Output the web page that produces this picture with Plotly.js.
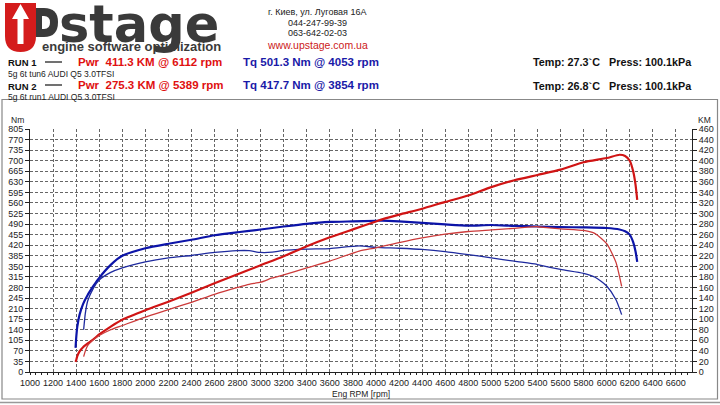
<!DOCTYPE html>
<html>
<head>
<meta charset="utf-8">
<script src="https://cdn.plot.ly/plotly-3.0.1.min.js"></script>
<style>html,body{margin:0;padding:0;background:#fff;}#chart{width:720px;height:405px;}</style>
</head>
<body>
<div id="chart"></div>
<script>
// ---- Data ----
const rpmRun1 = [1395,1400,1410,1430,1460,1500,1550,1600,1700,1800,2000,2200,2400,2600,2800,3000,3200,3400,3600,3800,4000,4053,4200,4400,4600,4800,5000,5200,5400,5600,5800,6000,6112,6160,6200,6230,6250,6265];
const torqueRun1 = [80,110,150,190,225,255,285,312,355,385,410,425,438,453,463,472,482,491,497,499,501,501.3,499,494,489,485,487,484,482,480,479,477,472,466,455,430,400,365];
const powerRun1 = [19,22,30,39,47,54,62,71,86,99,117,133,150,168,185,202,219,238,255,270,285,289,298,309,322,334,350,363,373,383,397,405,411.3,409,400,380,355,326];

const rpmRun2 = [1465,1470,1480,1500,1550,1600,1700,1800,2000,2200,2400,2600,2800,2900,3000,3100,3200,3400,3600,3854,4000,4200,4400,4600,4800,5000,5200,5389,5400,5600,5800,5900,6000,6080,6130];
const torqueRun2 = [140,160,195,235,278,305,330,345,365,378,386,396,402,402,396,397,403,407,409,417.7,413,410,406,399,389,378,367,357,356,340,327,314,285,240,190];
const powerRun2 = [29,33,40,50,61,69,80,88,104,118,132,147,160,166,170,178,184,197,210,229,235,245,254,261,266,269,272,275.3,275,271,268,262,243,208,162];

const xTickStart = 1000, xTickStep = 200;
const nmTickStep = 35, kmTickStep = 20;

// ---- pixel -> paper helpers (plot area: x 30..692, y 129..372) ----
const L = 30, R = 692, T = 129, B = 372;
const PX = px => (px - L) / (R - L);
const PY = py => (B - py) / (B - T);
function ann(text, px, py, size, color, xanchor, bold, family, yanchor) {
  return {xref:'paper', yref:'paper', x:PX(px), y:PY(py), text: bold ? '<b>'+text+'</b>' : text,
    showarrow:false, xanchor: xanchor||'left', yanchor: yanchor||'middle',
    font:{size:size, color:color, family: family || 'Liberation Sans, Arial, sans-serif'}};
}
function pathOf(pts, close) {
  let s = '';
  pts.forEach(p => {
    if (p[0] === 'Q') s += 'Q ' + PX(p[1]) + ',' + PY(p[2]) + ' ' + PX(p[3]) + ',' + PY(p[4]) + ' ';
    else s += p[0] + ' ' + PX(p[1]) + ',' + PY(p[2]) + ' ';
  });
  return s + (close ? 'Z' : '');
}

const red = '#e01010', blue = '#1a1aa8';

const annotations = [
  ann('stage', 57, 24, 51, '#3a3a3a', 'left', true, 'DejaVu Sans, sans-serif'),
  ann('engine software optimization', 131, 46.5, 13, '#3a3a3a', 'center', true),
  ann('г. Киев, ул. Луговая 16А', 317, 12, 9, '#222', 'center'),
  ann('044-247-99-39', 317, 22.5, 9, '#222', 'center'),
  ann('063-642-02-03', 317, 33, 9, '#222', 'center'),
  ann('www.upstage.com.ua', 317, 45, 10.5, '#cc2020', 'center'),
  ann('RUN 1', 6, 63, 9.5, '#111', 'left', true),
  ann('Pwr  411.3 KM @ 6112 rpm', 76, 62, 11.5, red, 'left', true),
  ann('Tq 501.3 Nm @ 4053 rpm', 241, 62, 11.5, blue, 'left', true),
  ann('Temp: 27.3`C   Press: 100.1kPa', 531, 62, 10.8, '#111', 'left', true),
  ann('5g 6t tun6 AUDI Q5 3.0TFSI', 6, 74, 8.5, '#222', 'left'),
  ann('RUN 2', 6, 87, 9.5, '#111', 'left', true),
  ann('Pwr  275.3 KM @ 5389 rpm', 76, 85, 11.5, red, 'left', true),
  ann('Tq 417.7 Nm @ 3854 rpm', 241, 85, 11.5, blue, 'left', true),
  ann('Temp: 26.8`C   Press: 100.1kPa', 531, 86, 10.8, '#111', 'left', true),
  ann('5g 6t run1 AUDI Q5 3.0TFSI', 6, 97, 8.5, '#222', 'left'),
  ann('Nm', 17, 120, 8.5, '#222', 'center'),
  ann('KM', 705, 120, 8.5, '#222', 'center'),
  ann('Eng RPM [rpm]', 361, 393.5, 8.5, '#222', 'center')
];

const shapes = [
  {type:'path', xref:'paper', yref:'paper', fillcolor:'#d41c1c', line:{width:0},
   path: pathOf([['M',5,3],['L',5,36],['Q',5,52,20.5,52],['Q',36,52,36,36],['L',36,3]], true)},
  {type:'path', xref:'paper', yref:'paper', fillcolor:'#ffffff', line:{width:0},
   path: pathOf([['M',12,19],['L',20.5,4],['L',29,19],['L',23.5,19],['L',23.5,44],['L',17.5,44],['L',17.5,19]], true)},
  {type:'path', xref:'paper', yref:'paper', fillcolor:'#3a3a3a', line:{width:0},
   path: pathOf([['M',36,8],['L',44,8],['Q',58,8,58,22],['Q',58,37,44,37],['L',36,37]], true)},
  {type:'path', xref:'paper', yref:'paper', fillcolor:'#ffffff', line:{width:0},
   path: pathOf([['M',42,16],['L',44,16],['Q',50,16,50,22.5],['Q',50,29,44,29],['L',42,29]], true)},
  {type:'line', xref:'paper', yref:'paper', x0:PX(45), x1:PX(62), y0:PY(62), y1:PY(62), line:{color:'#111', width:1.2}},
  {type:'line', xref:'paper', yref:'paper', x0:PX(45), x1:PX(62), y0:PY(85), y1:PY(85), line:{color:'#111', width:1.2}},
  {type:'rect', xref:'paper', yref:'paper', x0:PX(2), x1:PX(717.5), y0:PY(399), y1:PY(99.5), line:{color:'#888', width:1.2}},
  {type:'line', xref:'paper', yref:'paper', x0:PX(0), x1:PX(720), y0:PY(402.5), y1:PY(402.5), line:{color:'#999', width:1.5}}
];

const traces = [
  {x: rpmRun1, y: torqueRun1, type:'scatter', mode:'lines', line:{color:'#0c14a8', width:2.2, shape:'spline', smoothing:0.6}, yaxis:'y'},
  {x: rpmRun1, y: powerRun1, type:'scatter', mode:'lines', line:{color:'#d01414', width:2.2, shape:'spline', smoothing:0.6}, yaxis:'y2'},
  {x: rpmRun2, y: torqueRun2, type:'scatter', mode:'lines', line:{color:'#1e2a9e', width:1.3, shape:'spline', smoothing:0.6}, yaxis:'y'},
  {x: rpmRun2, y: powerRun2, type:'scatter', mode:'lines', line:{color:'#cc3a3a', width:1.3, shape:'spline', smoothing:0.6}, yaxis:'y2'}
];

const tickFont = {size:9, color:'#222', family:'Liberation Sans, Arial, sans-serif'};
const layout = {
  width:720, height:405,
  margin:{l:L, r:720-R, t:T, b:405-B, pad:0},
  paper_bgcolor:'#fff', plot_bgcolor:'#fff',
  showlegend:false,
  xaxis:{range:[1000, 6740], tick0:xTickStart, dtick:xTickStep, showgrid:true, gridcolor:'#666', griddash:'3px,2px', gridwidth:1,
         showline:true, linecolor:'#222', linewidth:1, ticks:'outside', ticklen:2, tickcolor:'#222', tickfont:tickFont, zeroline:false,
         minor:{dtick:50, ticks:'outside', ticklen:2, tickcolor:'#222', showgrid:false}},
  yaxis:{range:[0, 805], tick0:0, dtick:nmTickStep, showgrid:true, gridcolor:'#666', griddash:'3px,2px', gridwidth:1,
         showline:true, linecolor:'#222', linewidth:1, ticks:'outside', ticklen:4, tickcolor:'#222', tickfont:tickFont, zeroline:false},
  yaxis2:{range:[0, 460], tick0:0, dtick:kmTickStep, overlaying:'y', side:'right', showgrid:false,
         showline:true, linecolor:'#222', linewidth:1, ticks:'outside', ticklen:4, tickcolor:'#222', tickfont:tickFont, zeroline:false},
  annotations: annotations,
  shapes: shapes
};

Plotly.newPlot('chart', traces, layout, {staticPlot:true, displayModeBar:false});
</script>
</body>
</html>
